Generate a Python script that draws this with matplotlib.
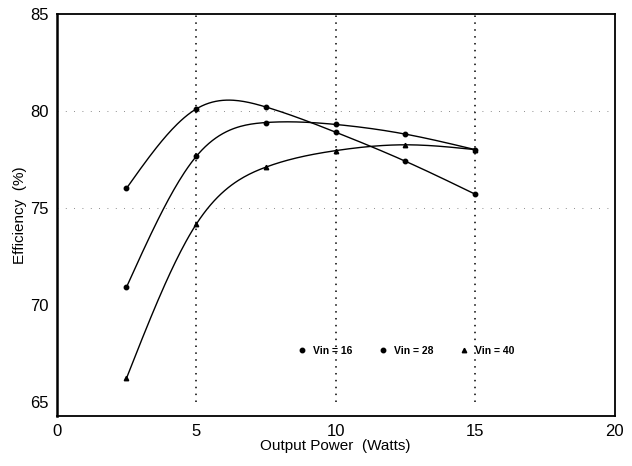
import numpy as np
import matplotlib
matplotlib.use("Agg")
import matplotlib.pyplot as plt

plt.rcParams['font.family'] = ['Liberation Sans', 'DejaVu Sans']

power = [2.5, 5, 7.5, 10, 12.5, 15]
eff_16 = [76.0, 80.1, 80.2, 78.9, 77.4, 75.7]
eff_28 = [70.9, 77.65, 79.4, 79.3, 78.8, 78.0]
eff_40 = [66.2, 74.15, 77.1, 77.95, 78.25, 78.0]
series = [("Vin = 16", eff_16, "o"), ("Vin = 28", eff_28, "o"), ("Vin = 40", eff_40, "^")]

xticks = [0, 5, 10, 15, 20]
yticks = [65, 70, 75, 80, 85]


def natural_spline(x, y, n=200):
    # plain natural cubic spline, just for drawing the smooth curve
    x = np.asarray(x, float)
    y = np.asarray(y, float)
    k = len(x)
    h = np.diff(x)
    A = np.zeros((k, k))
    b = np.zeros(k)
    A[0, 0] = A[-1, -1] = 1
    for i in range(1, k - 1):
        A[i, i - 1] = h[i - 1]
        A[i, i] = 2 * (h[i - 1] + h[i])
        A[i, i + 1] = h[i]
        b[i] = 3 * ((y[i + 1] - y[i]) / h[i] - (y[i] - y[i - 1]) / h[i - 1])
    c = np.linalg.solve(A, b)
    xs = np.linspace(x[0], x[-1], n)
    ys = np.empty_like(xs)
    for j, xv in enumerate(xs):
        i = min(np.searchsorted(x, xv, side='right') - 1, k - 2)
        dx = xv - x[i]
        bi = (y[i + 1] - y[i]) / h[i] - h[i] * (2 * c[i] + c[i + 1]) / 3
        di = (c[i + 1] - c[i]) / (3 * h[i])
        ys[j] = y[i] + bi * dx + c[i] * dx ** 2 + di * dx ** 3
    return xs, ys


fig = plt.figure(figsize=(6.32, 4.66), dpi=100)
ax = fig.add_axes([0.0897, 0.107, 0.883, 0.863])

# dotted grid like the scanned original
for xv in [5, 10, 15]:
    ax.vlines(xv, 65, 85, colors='black', linestyles=(0, (1, 3.5)), linewidth=1.1)
for yv in [75, 80]:
    ax.hlines(yv, 0, 20, colors='black', linestyles=(0, (1, 9)), linewidth=0.6, alpha=0.6)

handles = []
for label, vals, mk in series:
    xs, ys = natural_spline(power, vals)
    ax.plot(xs, ys, color='black', linewidth=1.0)
    ax.plot(power, vals, linestyle='none', marker=mk, markersize=3.2, color='black')
    h, = ax.plot([], [], linestyle='none', marker=mk, markersize=3.2, color='black', label=label)
    handles.append(h)

leg = ax.legend(handles=handles, ncol=3, frameon=False, loc='center',
                bbox_to_anchor=(0.625, 0.163), prop={'size': 7.5, 'weight': 'bold'},
                handletextpad=0.6, columnspacing=2.4, handlelength=1.0)

ax.set_xlim(0, 20)
ax.set_ylim(64.25, 85)
ax.set_xticks(xticks)
ax.set_yticks(yticks)
ax.tick_params(length=0, labelsize=12, pad=6)
ax.set_xlabel("Output Power  (Watts)", fontsize=11, labelpad=0)
ax.set_ylabel("Efficiency  (%)", fontsize=11, labelpad=2)
for s in ax.spines.values():
    s.set_linewidth(1.3)
ax.spines['left'].set_linewidth(1.8)

fig.savefig("out.png", dpi=100)
